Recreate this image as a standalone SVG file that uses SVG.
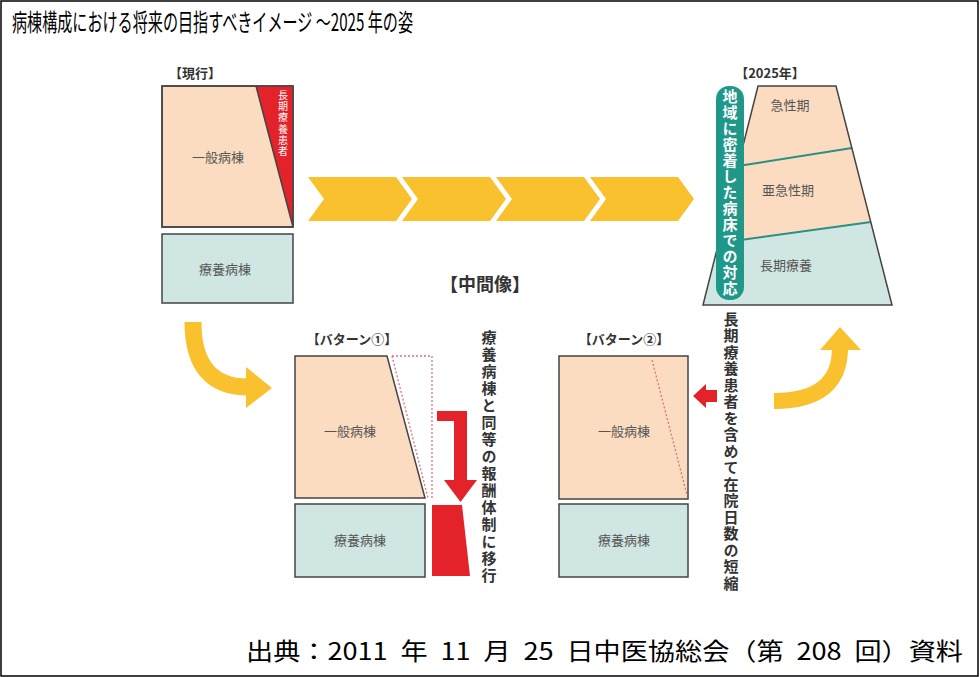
<svg xmlns="http://www.w3.org/2000/svg" width="980" height="677" viewBox="0 0 980 677">
<style>
.t{font-family:"Noto Sans CJK JP","Noto Sans",sans-serif;}
.hd{font-family:"Noto Sans CJK JP",sans-serif;font-weight:bold;font-size:13px;fill:#333;text-anchor:middle;}
.lb{font-family:"Noto Sans CJK JP",sans-serif;font-size:13px;fill:#555;text-anchor:middle;}
.vt{font-family:"Noto Sans CJK JP",sans-serif;font-weight:bold;font-size:15px;fill:#333;writing-mode:vertical-rl;text-anchor:middle;}
.pe{fill:#fbdcc0;stroke:#444;stroke-width:1.5;}
.tl{fill:#cfe6e2;stroke:#444;stroke-width:1.5;}
.red{fill:#e4222a;}
.yel{fill:#f8c12d;}
.dot{fill:none;stroke:#e07080;stroke-width:1.3;stroke-dasharray:2 2;}
</style>
<rect x="1" y="1" width="977" height="675" fill="#fff" stroke="#000" stroke-width="1.5"/>
<text class="t" x="12" y="31" font-size="24" textLength="401" lengthAdjust="spacingAndGlyphs" fill="#000">病棟構成における将来の目指すべきイメージ ～2025 年の姿</text>
<text class="t" x="246" y="660" font-size="24" word-spacing="6" textLength="717" lengthAdjust="spacingAndGlyphs" fill="#000">出典：2011 年 11 月 25 日中医協総会（第 208 回）資料</text>

<g id="current">
<text class="hd" x="195" y="78">【現行】</text>
<rect class="pe" x="162" y="86" width="131" height="141"/>
<polygon class="red" points="256,86 293,86 293,227"/>
<line x1="256" y1="86" x2="293" y2="227" stroke="#444" stroke-width="1.5"/>
<rect x="162" y="86" width="131" height="141" fill="none" stroke="#444" stroke-width="1.5"/>
<text x="283" y="124" font-family="Noto Sans CJK JP,sans-serif" font-size="10" fill="#fff" style="writing-mode:vertical-rl;letter-spacing:1.3px" text-anchor="middle">長期療養患者</text>
<text class="lb" x="218" y="162">一般病棟</text>
<rect class="tl" x="162" y="234" width="131" height="69"/>
<text class="lb" x="225" y="274">療養病棟</text>
</g>

<g id="future">
<text class="hd" x="770" y="78">【2025年】</text>
<polygon fill="#fbdcc0" points="758,86 836,86 852,148 738,166"/>
<polygon fill="#fbdcc0" points="738,166 852,148 871,222 719,243"/>
<polygon fill="#cfe6e2" points="719,243 871,222 892,305 703,305"/>
<line x1="738" y1="166" x2="852" y2="148" stroke="#2b8f86" stroke-width="2"/>
<line x1="719" y1="243" x2="871" y2="222" stroke="#2b8f86" stroke-width="2"/>
<polygon points="758,86 836,86 892,305 703,305" fill="none" stroke="#444" stroke-width="1.5"/>
<text class="lb" x="790" y="110">急性期</text>
<text class="lb" x="788" y="195">亜急性期</text>
<text class="lb" x="786" y="270">長期療養</text>
<rect x="716" y="86" width="28" height="214" rx="13" fill="#1f988a"/>
<text x="730" y="193" font-family="Noto Sans CJK JP,sans-serif" font-weight="bold" font-size="15" fill="#fff" style="writing-mode:vertical-rl;letter-spacing:1px" text-anchor="middle">地域に密着した病床での対応</text>
</g>

<g id="middle-title">
<text x="485" y="291" font-family="Noto Sans CJK JP,sans-serif" font-weight="bold" font-size="18" fill="#333" text-anchor="middle">【中間像】</text>
</g>

<g id="pattern1">
<text class="hd" x="352" y="344" font-size="14">【バターン①】</text>
<polygon class="pe" points="295,356 387,356 425,498 295,498"/>
<polyline class="dot" points="392,356 432,356 432,498"/>
<line class="dot" x1="392" y1="356" x2="428" y2="498"/>
<text class="lb" x="350" y="436">一般病棟</text>
<rect class="tl" x="295" y="504" width="130" height="73"/>
<text class="lb" x="360" y="545">療養病棟</text>
<polygon class="red" points="432,505 462,505 470,576 432,576"/>
<text class="vt" x="489" y="457" style="letter-spacing:2px">療養病棟と同等の報酬体制に移行</text>
</g>

<g id="pattern2">
<text class="hd" x="624" y="344" font-size="14">【バターン②】</text>
<rect class="pe" x="559" y="356" width="129" height="143"/>
<line class="dot" x1="652" y1="360" x2="687" y2="495"/>
<text class="lb" x="624" y="436">一般病棟</text>
<rect class="tl" x="559" y="504" width="129" height="73"/>
<text class="lb" x="624" y="545">療養病棟</text>
<text class="vt" x="731" y="452" style="letter-spacing:1.5px">長期療養患者を含めて在院日数の短縮</text>
</g>

<g id="connectors">
<polygon class="yel" points="308,177 396,177 412,199 396,221 308,221 324,199"/>
<polygon class="yel" points="402,177 490,177 506,199 490,221 402,221 418,199"/>
<polygon class="yel" points="496,177 584,177 600,199 584,221 496,221 512,199"/>
<polygon class="yel" points="590,177 678,177 694,199 678,221 590,221 606,199"/>
<path d="M193,322 Q193,387 248,387" fill="none" stroke="#f8c12d" stroke-width="17"/>
<polygon class="yel" points="246,367 272,388 246,408"/>
<path d="M774,401 Q840,401 840,348" fill="none" stroke="#f8c12d" stroke-width="16"/>
<polygon class="yel" points="820,350 840,327 861,350"/>
<path class="red" d="M437,411 H467 V480 H477 L460.5,502 L444,480 H454 V421 H437 Z"/>
<polygon class="red" points="693,396 706,384 706,390 717,390 717,402 706,402 706,408"/>
</g>
</svg>
